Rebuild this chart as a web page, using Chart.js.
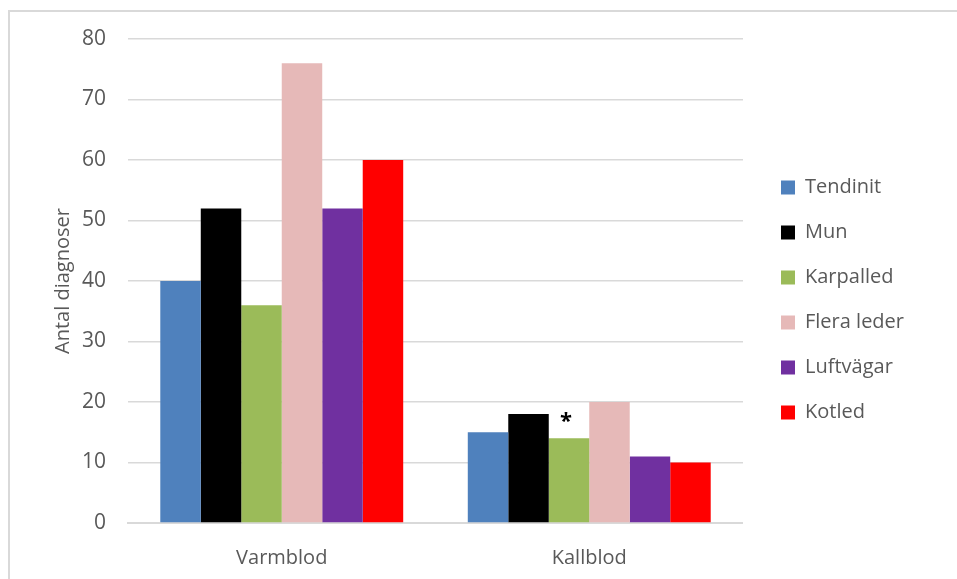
<!DOCTYPE html>
<html>
<head>
<meta charset="utf-8">
<script src="https://cdn.jsdelivr.net/npm/chart.js@4"></script>
<style>
  html, body { margin: 0; padding: 0; background: #fff; overflow: hidden; }
  #frame {
    position: absolute; left: 8px; top: 10px; width: 1000px; height: 600px;
    border-top: 2px solid #d9d9d9; border-left: 2px solid #d9d9d9;
  }
  #wrap { position: absolute; left: 0; top: 0; width: 957px; height: 579px; }
</style>
</head>
<body>
<div id="frame"></div>
<div id="wrap"><canvas id="diagChart"></canvas></div>
<script>
// Categories and series
const categories = ['Varmblod', 'Kallblod'];
const seriesNames = ['Tendinit', 'Mun', 'Karpalled', 'Flera leder', 'Luftvägar', 'Kotled'];
const seriesColors = ['#4f81bd', '#000000', '#9bbb59', '#e6b9b8', '#7030a0', '#ff0000'];
const tendinit = [40, 15];
const mun = [52, 18];
const karpalled = [36, 14];
const fleraLeder = [76, 20];
const luftvagar = [52, 11];
const kotled = [60, 10];
const seriesValues = [tendinit, mun, karpalled, fleraLeder, luftvagar, kotled];

// Asterisk over Karpalled / Kallblod
const starMark = { series: 2, category: 1, text: '*' };

const textColor = '#595959';
const fontFamily = "'Open Sans', 'Noto Sans', sans-serif";

const starPlugin = {
  id: 'starPlugin',
  afterDatasetsDraw(chart) {
    const bar = chart.getDatasetMeta(starMark.series).data[starMark.category];
    if (!bar) return;
    const ctx = chart.ctx;
    ctx.save();
    ctx.fillStyle = '#000';
    ctx.font = 'bold 22px ' + fontFamily;
    ctx.textAlign = 'center';
    ctx.textBaseline = 'bottom';
    ctx.fillText(starMark.text, bar.x - 3, bar.y - 6);
    ctx.restore();
  }
};

function initChart() {
  const ctx = document.getElementById('diagChart');
  new Chart(ctx, {
    type: 'bar',
    data: {
      labels: categories,
      datasets: seriesNames.map((name, i) => ({
        label: name,
        data: seriesValues[i],
        backgroundColor: seriesColors[i],
        borderWidth: 0,
        barPercentage: 1,
        categoryPercentage: 0.79
      }))
    },
    options: {
      responsive: true,
      maintainAspectRatio: false,
      animation: false,
      layout: { padding: { left: 48, top: 39, right: 43, bottom: -14 } },
      plugins: {
        tooltip: { enabled: false },
        legend: {
          position: 'right',
          fullSize: false,
          maxWidth: 170,
          title: { display: true, text: ' ', font: { size: 10 }, padding: 13 },
          labels: {
            color: textColor,
            font: { family: fontFamily, size: 20 },
            boxWidth: 14,
            boxHeight: 14,
            padding: 25
          }
        }
      },
      scales: {
        x: {
          grid: { display: false, drawTicks: false },
          border: { color: '#d9d9d9', width: 2 },
          ticks: { color: textColor, font: { family: fontFamily, size: 20 }, padding: 23 }
        },
        y: {
          min: 0,
          max: 80,
          afterFit: scale => { scale.width = 80; },
          ticks: {
            stepSize: 10,
            color: textColor,
            font: { family: fontFamily, size: 21 },
            padding: 22
          },
          grid: { color: '#d9d9d9', lineWidth: 1.5, drawTicks: false },
          border: { display: false },
          title: {
            display: true,
            text: 'Antal diagnoser',
            color: textColor,
            font: { family: fontFamily, size: 20 },
            padding: { top: 3, bottom: 0 }
          }
        },
        spacer: {
          position: 'right',
          display: true,
          grid: { display: false, drawTicks: false },
          border: { display: false },
          ticks: { display: false },
          afterFit: scale => { scale.width = 13; }
        }
      }
    },
    plugins: [starPlugin]
  });
}

document.addEventListener('DOMContentLoaded', initChart);
</script>
</body>
</html>
